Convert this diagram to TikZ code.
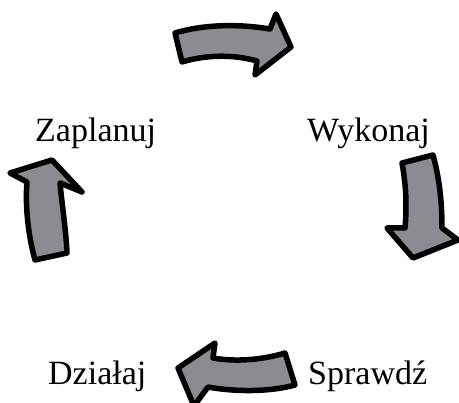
\documentclass[tikz,border=0pt]{standalone}
\usepackage{fontspec}
\setmainfont{Liberation Serif}
\usetikzlibrary{positioning}
\definecolor{arrowfill}{RGB}{139,140,145}
\definecolor{ink}{HTML}{000000}
\tikzset{
  phase/.style={anchor=base west,inner sep=0pt,text=ink,
    font=\fontsize{34}{38}\selectfont},
  cyclearrow/.style={draw=ink,fill=arrowfill,line width=5.5pt,line join=round},
}

\begin{document}
\begin{tikzpicture}[x=1pt,y=-1pt]
  \useasboundingbox (0,0) rectangle (459,403);
  % the four phases
  \node[phase] (plan) at (35,142) {Zaplanuj};
  \node[phase] (do) at (307,142) {Wykonaj};
  \node[phase] (check) at (308,385) {Sprawdź};
  \node[phase] (act) at (48,385) {Działaj};
  % top: plan -> do
  \draw[cyclearrow] (175,33) .. controls (205,24) and (240,24) .. (270,29)
    -- (276,14) -- (291,47) -- (255,75) -- (257,61)
    .. controls (232,54) and (205,55) .. (182,62) -- cycle;
  % right: do -> check
  \draw[cyclearrow] (402,163) -- (433,155) .. controls (440,180) and (442,205) .. (442,228)
    -- (458,240) -- (413,258) -- (387,228) -- (405,228)
    .. controls (407,205) and (406,185) .. (402,163) -- cycle;
  % bottom: check -> act
  \draw[cyclearrow] (178,368) -- (215,343) -- (213,358)
    .. controls (235,362) and (262,360) .. (285,353) -- (295,385)
    .. controls (270,392) and (235,392) .. (208,387) -- (194,406) -- cycle;
  % left: act -> plan
  \draw[cyclearrow] (52,160) -- (82,192) -- (60,183)
    .. controls (62,205) and (66,230) .. (67,253) -- (35,260)
    .. controls (28,235) and (25,205) .. (27,182) -- (10,173) -- cycle;
\end{tikzpicture}
\end{document}
